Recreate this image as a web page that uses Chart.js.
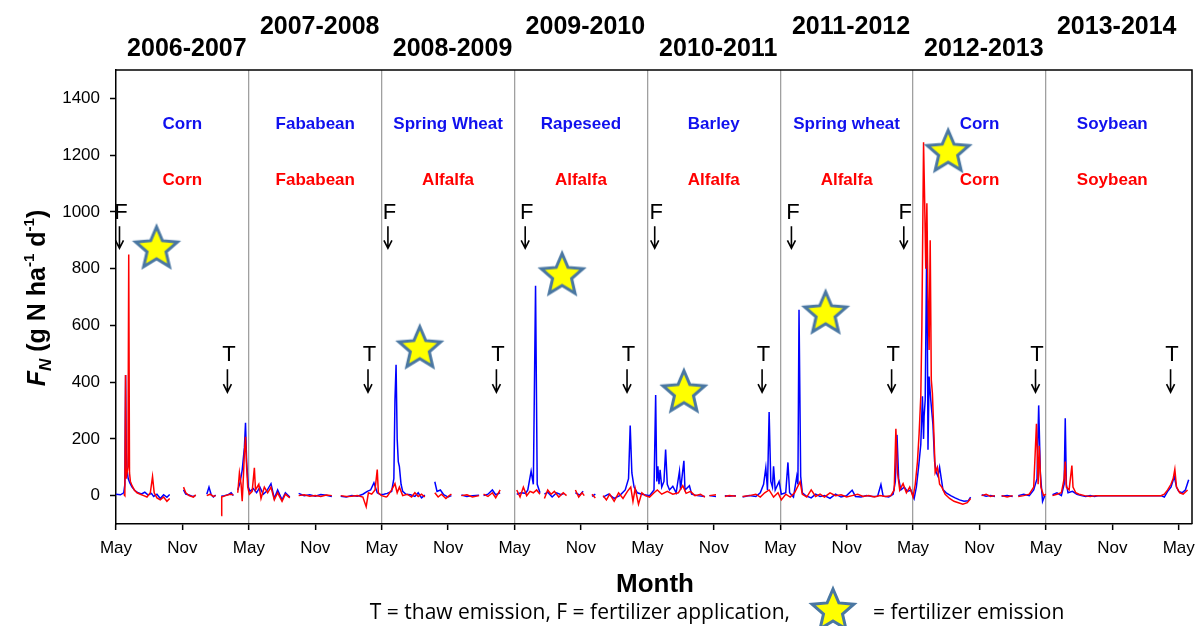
<!DOCTYPE html>
<html>
<head>
<meta charset="utf-8">
<script src="https://cdn.jsdelivr.net/npm/chart.js@4.4.0/dist/chart.umd.min.js"></script>
<style>
  html, body { margin: 0; padding: 0; background: #fff; }
</style>
</head>
<body>
<canvas id="fluxChart" width="1195" height="626"></canvas>
<script>
// months counted from May 2006
const seasons = ['2006-2007', '2007-2008', '2008-2009', '2009-2010', '2010-2011', '2011-2012', '2012-2013', '2013-2014'];
const cropsBlue = ['Corn', 'Fababean', 'Spring Wheat', 'Rapeseed', 'Barley', 'Spring wheat', 'Corn', 'Soybean'];
const cropsRed = ['Corn', 'Fababean', 'Alfalfa', 'Alfalfa', 'Alfalfa', 'Alfalfa', 'Corn', 'Soybean'];
const xTicks = [0, 6, 12, 18, 24, 30, 36, 42, 48, 54, 60, 66, 72, 78, 84, 90, 96];
const xTickLabels = ['May', 'Nov', 'May', 'Nov', 'May', 'Nov', 'May', 'Nov', 'May', 'Nov', 'May', 'Nov', 'May', 'Nov', 'May', 'Nov', 'May'];
const yTicks = [0, 200, 400, 600, 800, 1000, 1200, 1400];
const fertMonths = [0.45, 24.7, 37.1, 48.8, 61.15, 71.3];
const thawMonths = [10.2, 22.9, 34.5, 46.3, 58.5, 70.2, 83.2, 95.4];
const starPoints = [[3.66, 877], [27.44, 525], [40.3, 783], [51.3, 370], [64.1, 648], [75.17, 1217]];

const blueFlux = [
  [0.0, 5], [0.4, 3], [0.7, 10], [0.8, 40], [0.87, 425], [0.93, 150], [1.0, 90], [1.1, 60], [1.25, 45], [1.45, 30], [1.7, 18], [2.0, 10], [2.3, 6], [2.6, 12], [2.9, 2], [3.2, 8], [3.4, -3], [3.7, 5], [4.0, -10], [4.3, 3], [4.6, -6], [4.85, 4], [5.0, null],
  [6.1, 20], [6.3, 5], [6.6, 2], [6.9, -3], [7.2, 0], [7.4, null],
  [8.2, 5], [8.4, 30], [8.6, 3], [8.8, -5], [9.0, 2], [9.2, null],
  [9.5, -2], [9.8, 0], [10.1, 3], [10.4, 10], [10.6, 0], [10.8, null],
  [11.0, 20], [11.2, 45], [11.4, 90], [11.6, 170], [11.7, 257], [11.8, 120], [11.95, 30],
  [12.1, 15], [12.4, 25], [12.7, 10], [13.0, 30], [13.3, 5], [13.6, 15], [14.0, 42], [14.3, -10], [14.6, 20], [15.0, -15], [15.3, 10], [15.7, -5], [15.9, null],
  [16.5, 8], [17.0, 0], [17.5, 3], [18.0, -2], [18.5, 4], [19.0, 1], [19.5, -3], [19.8, null],
  [20.3, -2], [20.8, -5], [21.3, 0], [21.8, -2], [22.3, 5], [22.7, 15], [23.0, 20], [23.3, 45], [23.6, 10], [23.9, 3], [24.2, 5],
  [24.5, 8], [24.9, 15], [25.1, 60], [25.2, 338], [25.3, 461], [25.4, 200], [25.5, 120], [25.6, 102], [25.75, 40], [25.9, 15], [26.2, 5], [26.6, 3], [27.0, -3], [27.3, 10], [27.6, -8], [27.9, 2], [28.1, null],
  [28.8, 49], [29.0, 15], [29.3, 20], [29.6, 3], [30.0, -5], [30.3, 0], [30.5, null],
  [31.2, 2], [31.7, -3], [32.2, 0], [32.8, 1], [33.0, null],
  [33.2, 0], [33.6, 5], [34.0, 20], [34.3, 3], [34.7, 10], [35.0, null],
  [36.2, 5], [36.6, 10], [37.0, 8], [37.2, 20], [37.5, 86], [37.7, 40], [37.9, 740], [38.05, 40], [38.3, 10], [38.6, null],
  [38.7, 5], [39.0, 12], [39.4, -5], [39.8, 10], [40.2, 3], [40.5, 8], [40.8, null],
  [41.5, 10], [41.9, 2], [42.2, 15], [42.4, null],
  [43.0, -3], [43.3, 5], [43.6, null],
  [44.0, -5], [44.5, 5], [45.0, -10], [45.5, 0], [46.0, 20], [46.3, 60], [46.45, 247], [46.6, 80], [46.8, 30], [47.1, 10], [47.5, 5],
  [48.2, 0], [48.6, 20], [48.75, 355], [48.85, 50], [48.95, 103], [49.05, 40], [49.15, 91], [49.3, 30], [49.5, 50], [49.65, 162], [49.8, 40], [50.0, 20], [50.3, 33], [50.6, 10], [50.9, 86], [51.0, 20], [51.3, 123], [51.4, 20], [51.8, 35], [52.0, 5], [52.5, 0], [53.2, -3], [53.4, null],
  [53.6, 0], [54.2, -3], [54.5, null],
  [55.0, 0], [55.4, -2], [56.0, 0], [56.3, null],
  [56.6, -5], [57.2, 0], [57.8, -3], [58.2, 10], [58.5, 40], [58.7, 98], [58.85, 20], [59.0, 295], [59.15, 50], [59.3, 30], [59.4, 103], [59.55, 20], [59.9, 50], [60.1, 5],
  [60.5, 10], [60.7, 117], [60.85, 10], [61.2, -5], [61.5, 68], [61.6, 40], [61.7, 655], [61.85, 68], [62.0, 10], [62.3, 0], [62.8, -8], [63.2, 5], [63.6, -3], [64.0, 0], [64.5, -10], [65.0, 5], [65.5, -5], [66.0, 0], [66.5, 19], [66.8, -3], [67.3, -5], [67.8, 0], [68.3, -3], [68.8, -2], [69.1, 39], [69.3, -2], [69.8, -5], [70.2, 5], [70.4, 50], [70.55, 214], [70.7, 60], [70.9, 20], [71.2, 30], [71.5, 15], [71.8, 20],
  [72.1, -10], [72.3, 30], [72.5, 100], [72.7, 180], [72.85, 350], [72.95, 200], [73.0, 280], [73.1, 338], [73.25, 932], [73.35, 162], [73.45, 420], [73.6, 338], [73.8, 250], [73.95, 120], [74.1, 81], [74.25, 68], [74.4, 100], [74.55, 60], [74.7, 21], [75.0, 10], [75.4, 0], [75.8, -8], [76.2, -15], [76.6, -20], [77.0, -18], [77.2, -5], [77.4, null],
  [78.2, 3], [78.6, -2], [79.0, 0], [79.4, -3], [79.7, null],
  [80.0, -2], [80.5, 0], [81.0, -3], [81.2, null],
  [81.5, 0], [82.0, 5], [82.5, 0], [82.9, 20], [83.2, 60], [83.35, 318], [83.5, 80], [83.7, -20], [83.9, 0], [84.1, null],
  [84.6, 3], [85.0, 10], [85.4, 0], [85.65, 40], [85.75, 273], [85.85, 40], [86.0, 10], [86.4, 15], [86.8, 5], [87.2, 0], [87.6, -3], [88.0, 0], [88.4, -3], [88.8, 0], [89.3, 0], [94.4, 0],
  [94.7, -5], [95.0, 15], [95.3, 30], [95.6, 67], [95.8, 30], [96.0, 15], [96.3, 10], [96.6, 20], [96.9, 56]
];

const redFlux = [
  [0.7, 5], [0.8, 0], [0.86, 425], [0.92, 60], [1.08, 100], [1.15, 850], [1.22, 80], [1.3, 50], [1.45, 35], [1.65, 20], [1.9, 10], [2.2, 5], [2.5, 0], [2.8, -5], [3.1, 10], [3.3, 67], [3.45, 10], [3.7, -8], [4.0, -15], [4.3, -5], [4.6, -20], [4.85, -10], [5.0, null],
  [6.1, 30], [6.3, 10], [6.6, 0], [7.0, -5], [7.2, 3], [7.4, null],
  [8.2, 0], [8.5, 5], [8.8, -3], [9.0, 0], [9.2, null],
  [9.5, -70], [9.55, -5], [9.9, 0], [10.3, 5], [10.6, 3], [10.8, null],
  [11.0, 10], [11.15, 80], [11.3, 40], [11.4, -20], [11.5, 60], [11.6, 150], [11.7, 207], [11.8, 100], [11.9, 30],
  [12.05, 5], [12.3, 15], [12.5, 98], [12.6, 20], [12.9, 40], [13.1, -10], [13.4, 30], [13.7, 10], [14.0, 30], [14.3, -15], [14.6, 10], [15.0, -20], [15.3, 5], [15.7, -8], [15.9, null],
  [16.5, 0], [17.0, 3], [17.5, -2], [18.0, 0], [18.5, -3], [19.0, 2], [19.5, 0], [19.8, null],
  [20.3, 0], [20.8, -3], [21.3, -2], [21.8, 0], [22.3, -5], [22.6, -39], [22.8, 10], [23.1, 5], [23.4, 20], [23.6, 92], [23.7, 10], [24.0, 0], [24.4, -5],
  [24.5, -3], [24.9, 20], [25.2, 42], [25.4, 10], [25.6, 30], [25.9, 0], [26.3, 5], [26.7, -5], [27.0, 10], [27.3, -3], [27.6, 5], [27.9, -5], [28.1, null],
  [28.8, 10], [29.1, -5], [29.4, 5], [29.8, -10], [30.1, 0], [30.3, 5], [30.5, null],
  [31.2, 0], [31.7, 3], [32.2, -5], [32.8, 0], [33.0, null],
  [33.2, 5], [33.6, -3], [34.0, 10], [34.3, -8], [34.7, 20], [35.0, null],
  [36.2, 20], [36.5, -5], [36.8, 30], [37.1, 0], [37.4, 15], [37.7, 10], [38.0, 20], [38.3, 5], [38.6, null],
  [38.7, -10], [39.0, 20], [39.3, 5], [39.6, 15], [40.0, -5], [40.4, 10], [40.7, 0], [40.8, null],
  [41.5, 20], [41.8, -5], [42.1, 10], [42.3, 0], [42.4, null],
  [43.0, 5], [43.3, -8], [43.6, null],
  [44.0, 0], [44.3, -15], [44.6, 5], [45.0, -20], [45.4, 10], [45.8, -10], [46.2, 15], [46.5, 30], [46.7, -20], [46.9, 25], [47.2, -30], [47.5, 10], [47.8, 0],
  [48.2, -5], [48.6, 10], [48.9, 20], [49.3, 5], [49.8, 15], [50.3, 5], [50.8, 10], [51.2, 35], [51.5, 8], [51.9, 15], [52.3, 0], [52.8, 5], [53.2, -5], [53.4, null],
  [53.6, 0], [54.2, 3], [54.5, null],
  [55.0, -3], [55.4, 0], [56.0, -2], [56.3, null],
  [56.6, -3], [57.2, 0], [57.8, 5], [58.2, -5], [58.6, 10], [59.0, 20], [59.4, -5], [59.8, 10], [60.1, -15],
  [60.5, 5], [60.9, -5], [61.3, 10], [61.8, 49], [62.0, 5], [62.4, -5], [62.8, 20], [63.2, -3], [63.6, 5], [64.0, -5], [64.5, 10], [65.0, 0], [65.5, 3], [66.0, -5], [66.5, 0], [67.0, 5], [67.5, -3], [68.0, 0], [68.5, -5], [69.0, 0], [69.5, -3], [70.0, 0], [70.3, 20], [70.45, 236], [70.6, 80], [70.8, 20], [71.1, 42], [71.4, 10], [71.7, 30],
  [72.0, -5], [72.2, 40], [72.4, 120], [72.55, 220], [72.7, 349], [72.8, 600], [72.95, 1245], [73.05, 1035], [73.15, 800], [73.25, 1030], [73.35, 700], [73.45, 513], [73.55, 900], [73.65, 408], [73.75, 360], [73.9, 200], [74.0, 81], [74.2, 100], [74.4, 40], [74.6, 30], [74.9, 5], [75.3, -10], [75.7, -20], [76.1, -25], [76.5, -30], [76.9, -25], [77.2, -10], [77.4, null],
  [78.2, 0], [78.6, 5], [79.0, -3], [79.4, 0], [79.7, null],
  [80.0, 0], [80.5, -5], [81.0, 0], [81.2, null],
  [81.5, -3], [82.0, 0], [82.5, 5], [82.9, 30], [83.15, 253], [83.3, 40], [83.4, 176], [83.55, 30], [83.8, 0], [84.0, 5], [84.1, null],
  [84.6, 0], [85.0, 5], [85.4, 10], [85.65, 60], [85.75, 120], [85.85, 30], [86.1, 20], [86.35, 106], [86.45, 30], [86.7, 10], [87.0, 5], [87.5, 0], [88.0, -3], [88.5, 0], [89.3, 0], [94.4, 0],
  [94.7, 5], [95.0, 20], [95.3, 40], [95.5, 60], [95.65, 93], [95.8, 30], [96.1, 10], [96.4, 5], [96.8, 20]
];

const FONT = '"Liberation Sans", Arial, sans-serif';

function toPoints(pairs) {
  return pairs.map(p => ({ x: p[0], y: p[1] }));
}

function starPath(ctx, cx, cy, R, r) {
  ctx.beginPath();
  for (let i = 0; i < 10; i++) {
    const rad = i % 2 === 0 ? R : r;
    const a = -Math.PI / 2 + i * Math.PI / 5;
    const px = cx + rad * Math.cos(a);
    const py = cy + rad * Math.sin(a);
    if (i === 0) ctx.moveTo(px, py); else ctx.lineTo(px, py);
  }
  ctx.closePath();
}

function drawStar(ctx, cx, cy) {
  ctx.save();
  starPath(ctx, cx, cy, 22, 10);
  ctx.fillStyle = '#ffff00';
  ctx.fill();
  ctx.lineWidth = 3;
  ctx.lineJoin = 'miter';
  ctx.strokeStyle = '#4a77a2';
  ctx.stroke();
  ctx.restore();
}

function makeStarImage() {
  const c = document.createElement('canvas');
  c.width = 52;
  c.height = 52;
  drawStar(c.getContext('2d'), 26, 28);
  return c;
}

function drawArrow(ctx, x, y0, y1) {
  ctx.beginPath();
  ctx.moveTo(x, y0);
  ctx.lineTo(x, y1);
  ctx.moveTo(x - 4, y1 - 8);
  ctx.lineTo(x, y1);
  ctx.lineTo(x + 4, y1 - 8);
  ctx.stroke();
}

const decorPlugin = {
  id: 'decor',
  afterDraw(chart) {
    const ctx = chart.ctx;
    const area = chart.chartArea;
    const xs = chart.scales.x;
    const ys = chart.scales.y;
    ctx.save();

    // frame top and right
    ctx.strokeStyle = '#000';
    ctx.lineWidth = 1.5;
    ctx.beginPath();
    ctx.moveTo(area.left, area.top);
    ctx.lineTo(area.right, area.top);
    ctx.lineTo(area.right, area.bottom);
    ctx.stroke();

    // season titles, alternating heights
    ctx.fillStyle = '#000';
    ctx.textAlign = 'center';
    ctx.textBaseline = 'alphabetic';
    ctx.font = 'bold 25px ' + FONT;
    seasons.forEach((s, i) => {
      const cx = xs.getPixelForValue(12 * i + 6.4);
      ctx.fillText(s, cx, i % 2 === 0 ? 56 : 34);
    });

    // crop names
    ctx.font = 'bold 17px ' + FONT;
    ctx.textBaseline = 'middle';
    cropsBlue.forEach((c, i) => {
      ctx.fillStyle = '#1010ee';
      ctx.fillText(c, xs.getPixelForValue(12 * i + 6), ys.getPixelForValue(1310));
      ctx.fillStyle = '#ff0000';
      ctx.fillText(cropsRed[i], xs.getPixelForValue(12 * i + 6), ys.getPixelForValue(1110));
    });

    // F and T markers
    ctx.fillStyle = '#000';
    ctx.strokeStyle = '#000';
    ctx.lineWidth = 1.6;
    ctx.font = '22px ' + FONT;
    fertMonths.forEach(m => {
      const px = xs.getPixelForValue(m);
      const py = ys.getPixelForValue(995);
      ctx.fillText('F', px, py);
      drawArrow(ctx, px - 1.5, py + 13, py + 35);
    });
    thawMonths.forEach(m => {
      const px = xs.getPixelForValue(m);
      const py = ys.getPixelForValue(495);
      ctx.fillText('T', px, py);
      drawArrow(ctx, px - 1.5, py + 14, py + 37);
    });

    // y axis title
    const parts = [
      { t: 'F', f: 'italic bold 25px ' + FONT, dy: 0 },
      { t: 'N', f: 'italic bold 17px ' + FONT, dy: 6 },
      { t: ' (g N ha', f: 'bold 25px ' + FONT, dy: 0 },
      { t: '-1', f: 'bold 15px ' + FONT, dy: -11 },
      { t: ' d', f: 'bold 25px ' + FONT, dy: 0 },
      { t: '-1', f: 'bold 15px ' + FONT, dy: -11 },
      { t: ')', f: 'bold 25px ' + FONT, dy: 0 }
    ];
    let total = 0;
    parts.forEach(p => { ctx.font = p.f; p.w = ctx.measureText(p.t).width; total += p.w; });
    ctx.save();
    ctx.translate(45, 298);
    ctx.rotate(-Math.PI / 2);
    ctx.textAlign = 'left';
    ctx.textBaseline = 'alphabetic';
    let cx = -total / 2;
    parts.forEach(p => {
      ctx.font = p.f;
      ctx.fillText(p.t, cx, p.dy);
      cx += p.w;
    });
    ctx.restore();

    // x axis title
    ctx.textAlign = 'center';
    ctx.textBaseline = 'alphabetic';
    ctx.font = 'bold 26px ' + FONT;
    ctx.fillText('Month', 655, 592);

    // caption
    ctx.font = '21px "Open Sans", sans-serif';
    ctx.textAlign = 'right';
    ctx.fillText('T = thaw emission, F = fertilizer application,', 790, 619);
    ctx.textAlign = 'left';
    ctx.fillText('= fertilizer emission', 873, 619);
    drawStar(ctx, 833, 611);

    ctx.restore();
  }
};

const ctx = document.getElementById('fluxChart').getContext('2d');
const starImage = makeStarImage();

new Chart(ctx, {
  type: 'line',
  data: {
    datasets: [
      {
        label: 'Fertilizer emission',
        data: toPoints(starPoints),
        showLine: false,
        pointStyle: starImage,
        pointRadius: 20,
        order: 0
      },
      {
        label: 'Red',
        data: toPoints(redFlux),
        borderColor: '#ff0000',
        borderWidth: 1.5,
        pointRadius: 0,
        tension: 0,
        spanGaps: false,
        order: 1
      },
      {
        label: 'Blue',
        data: toPoints(blueFlux),
        borderColor: '#0000ff',
        borderWidth: 1.5,
        pointRadius: 0,
        tension: 0,
        spanGaps: false,
        order: 2
      }
    ]
  },
  options: {
    responsive: false,
    animation: false,
    events: [],
    layout: { autoPadding: false, padding: { top: 70, right: 3, left: 0, bottom: 0 } },
    plugins: {
      legend: { display: false },
      tooltip: { enabled: false }
    },
    scales: {
      x: {
        type: 'linear',
        min: 0,
        max: 97.2,
        afterBuildTicks: scale => { scale.ticks = xTicks.map(v => ({ value: v })); },
        afterFit: scale => { scale.height = 102; scale.paddingLeft = 0; scale.paddingRight = 0; },
        border: { display: true, color: '#000', width: 1.5 },
        grid: {
          drawOnChartArea: true,
          color: c => (c.tick && c.tick.value % 12 === 0 && c.tick.value > 0 && c.tick.value < 96) ? '#a0a0a0' : 'rgba(0,0,0,0)',
          lineWidth: 1.3,
          tickColor: '#000',
          tickWidth: 1.5,
          tickLength: 6
        },
        ticks: {
          autoSkip: false,
          maxRotation: 0,
          color: '#000',
          padding: 8,
          font: { family: FONT, size: 17 },
          callback: value => xTickLabels[xTicks.indexOf(value)]
        }
      },
      y: {
        min: -100,
        max: 1500,
        afterBuildTicks: scale => { scale.ticks = yTicks.map(v => ({ value: v })); },
        afterFit: scale => { scale.width = 116; scale.paddingTop = 0; scale.paddingBottom = 0; },
        border: { display: true, color: '#000', width: 1.5 },
        grid: {
          drawOnChartArea: false,
          color: '#000',
          tickColor: '#000',
          tickWidth: 1.5,
          tickLength: 6
        },
        ticks: {
          color: '#000',
          padding: 10,
          font: { family: FONT, size: 17 },
          callback: value => String(value)
        }
      }
    }
  },
  plugins: [decorPlugin]
});
</script>
</body>
</html>
